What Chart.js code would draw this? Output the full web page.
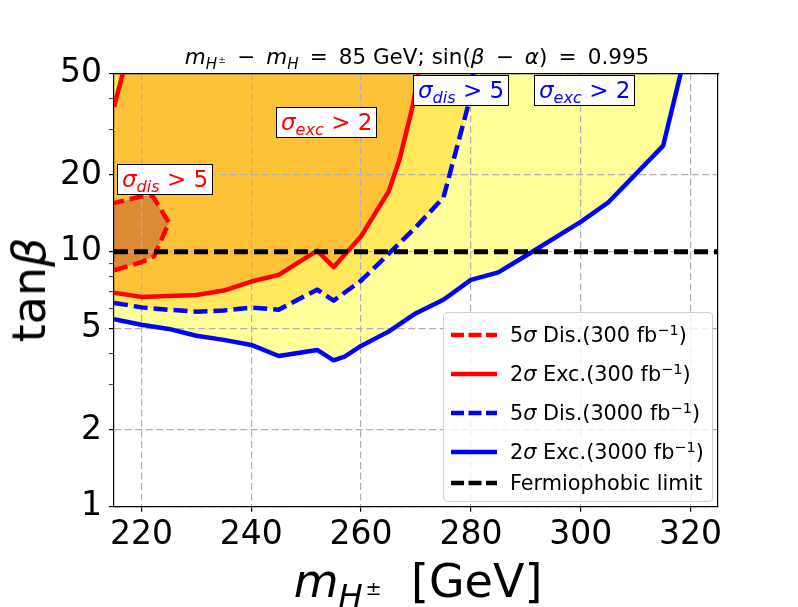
<!DOCTYPE html>
<html>
<head>
<meta charset="utf-8">
<script src="https://cdn.jsdelivr.net/npm/chart.js@4.4.1/dist/chart.umd.min.js"></script>
<style>
body { margin: 0; background: #fff; font-family: "DejaVu Sans", sans-serif; }
#wrap { position: relative; width: 798px; height: 607px; overflow: hidden; }
#myChart { position: absolute; left: 0; top: 0; }
.t { position: absolute; white-space: nowrap; color: #000; line-height: 1; }
.sb { font-size: 70%; vertical-align: -0.3em; }
.sp { font-size: 60%; vertical-align: 0.6em; margin-left: 0.15em; }
.op { margin: 0 0.2em; }
.box { position: absolute; white-space: nowrap; background: #fff; border: 1px solid #000;
       font-size: 23px; line-height: 29px; height: 29px; padding: 0 4px; }
#legend { position: absolute; left: 443px; top: 312px; width: 270px; height: 190px;
          background: rgba(255,255,255,0.8); border: 1px solid #d0d0d0; border-radius: 4px; box-sizing: border-box; }
.row { position: absolute; left: 0; height: 26px; width: 100%; font-size: 20.8px; line-height: 26px; white-space: nowrap; }
.row svg { position: absolute; left: 7px; top: 8px; }
.row span { position: absolute; left: 66px; top: 0; }
.row sup { font-size: 70%; vertical-align: 0.45em; line-height: 0; }
</style>
</head>
<body>
<div id="wrap">
<canvas id="myChart" width="798" height="607"></canvas>

<div class="t" style="left:417px; top:46px; font-size:21.5px; transform:translateX(-50%);"><i>m</i><span class="sb"><i>H</i><span class="sp">±</span></span> <span class="op">−</span> <i>m</i><span class="sb"><i>H</i></span> <span class="op">=</span> 85 GeV; sin(<i>β</i> <span class="op">−</span> <i>α</i>) <span class="op">=</span> 0.995</div>
<div class="t" style="left:418px; top:558px; font-size:46px; transform:translateX(-50%);"><i>m</i><span class="sb"><i>H</i><span class="sp">±</span></span>&nbsp;&nbsp;[GeV]</div>
<div class="t" style="left:29px; top:290px; font-size:46px; transform:translate(-50%,-50%) rotate(-90deg);">tan<i>β</i></div>

<div class="box" style="left:117px; top:164px; color:#ff0000;"><i>σ</i><span class="sb"><i>dis</i></span> &gt; 5</div>
<div class="box" style="left:276px; top:107px; color:#ff0000;"><i>σ</i><span class="sb"><i>exc</i></span> &gt; 2</div>
<div class="box" style="left:413px; top:75px; color:#0000ff;"><i>σ</i><span class="sb"><i>dis</i></span> &gt; 5</div>
<div class="box" style="left:534px; top:75px; color:#0000ff;"><i>σ</i><span class="sb"><i>exc</i></span> &gt; 2</div>

<div id="legend">
  <div class="row" style="top:9px;"><svg width="46" height="10"><line x1="0" y1="5" x2="46" y2="5" stroke="#ff0000" stroke-width="4.5" stroke-dasharray="13,4.5"/></svg><span>5<i>σ</i> Dis.(300 fb<sup>−1</sup>)</span></div>
  <div class="row" style="top:48px;"><svg width="46" height="10"><line x1="0" y1="5" x2="46" y2="5" stroke="#ff0000" stroke-width="4.5"/></svg><span>2<i>σ</i> Exc.(300 fb<sup>−1</sup>)</span></div>
  <div class="row" style="top:87px;"><svg width="46" height="10"><line x1="0" y1="5" x2="46" y2="5" stroke="#0000ff" stroke-width="4.5" stroke-dasharray="13,4.5"/></svg><span>5<i>σ</i> Dis.(3000 fb<sup>−1</sup>)</span></div>
  <div class="row" style="top:126px;"><svg width="46" height="10"><line x1="0" y1="5" x2="46" y2="5" stroke="#0000ff" stroke-width="4.5"/></svg><span>2<i>σ</i> Exc.(3000 fb<sup>−1</sup>)</span></div>
  <div class="row" style="top:157px;"><svg width="46" height="10"><line x1="0" y1="5" x2="46" y2="5" stroke="#000000" stroke-width="4.5" stroke-dasharray="13,4.5"/></svg><span>Fermiophobic limit</span></div>
</div>
</div>

<script>
var xTicks = [220, 240, 260, 280, 300, 320];
var yTicks = [1, 2, 5, 10, 20, 50];
var yMinor = [3, 4, 6, 7, 8, 9, 30, 40];

// 5 sigma discovery, 300 fb-1 (closed contour at low mass)
var dis300X = [215, 220, 222.3, 225, 222, 220, 215];
var dis300Y = [8.45, 9.1, 9.6, 13, 16.6, 16.5, 15.5];

// 2 sigma exclusion, 300 fb-1
var exc300X = [215, 220, 225, 230, 235, 240, 245, 252, 255, 260, 265, 267, 269.5, 270.4];
var exc300Y = [6.9, 6.65, 6.7, 6.77, 7.04, 7.64, 8.11, 10.1, 8.7, 11.5, 17.2, 23, 38, 50];
// piece of the same contour in the top left corner
var exc300CornerX = [215, 216.6];
var exc300CornerY = [37, 50];

// 5 sigma discovery, 3000 fb-1
var dis3000X = [215, 220, 225, 230, 235, 240, 245, 252, 255, 260, 265, 270, 275, 279.5, 280.4];
var dis3000Y = [6.3, 6.05, 5.92, 5.82, 5.88, 6.04, 5.92, 7.1, 6.43, 7.7, 9.8, 12.5, 16.3, 37.5, 50];

// 2 sigma exclusion, 3000 fb-1
var exc3000X = [215, 220, 225, 230, 235, 240, 245, 252, 255, 257, 260, 265, 270, 275, 280, 285, 290, 300, 305, 315, 318.2];
var exc3000Y = [5.44, 5.17, 4.98, 4.68, 4.51, 4.31, 3.9, 4.12, 3.75, 3.88, 4.27, 4.86, 5.74, 6.48, 7.75, 8.3, 9.64, 13.1, 15.6, 26, 50];

var fermioX = [215, 325];
var fermioY = [10, 10];

function pts(xs, ys) {
	return xs.map(function(x, i) { return {x: x, y: ys[i]}; });
}

function lineSet(data, color, dashed, width) {
	return {
		data: data, showLine: true, fill: false,
		borderColor: color, borderWidth: width || 4.5,
		borderDash: dashed ? [14, 6] : [],
		borderJoinStyle: 'round',
		pointRadius: 0, clip: 0
	};
}

function fillSet(data, color, fill) {
	return {
		data: data, showLine: true, fill: fill,
		backgroundColor: color, borderColor: 'rgba(0,0,0,0)', borderWidth: 0,
		pointRadius: 0
	};
}

// polygon of the orange region: lower branch, then back along the top to the corner piece
var orangeX = exc300X.concat(exc300CornerX.slice().reverse());
var orangeY = exc300Y.concat(exc300CornerY.slice().reverse());

var grey = '#b0b0b0';
var ctx = document.getElementById('myChart').getContext('2d');
var chart = new Chart(ctx, {
	type: 'scatter',
	data: {
		datasets: [
			lineSet(pts(fermioX, fermioY), '#000000', true, 5),
			lineSet(pts(dis300X, dis300Y), '#ff0000', true),
			lineSet(pts(exc300X, exc300Y), '#ff0000', false),
			lineSet(pts(exc300CornerX, exc300CornerY), '#ff0000', false),
			lineSet(pts(dis3000X, dis3000Y), '#0000ff', true),
			lineSet(pts(exc3000X, exc3000Y), '#0000ff', false),
			fillSet(pts(dis300X, dis300Y), '#dc8a34', 'shape'),
			fillSet(pts(orangeX, orangeY), '#fdc238', 'shape'),
			fillSet(pts(dis3000X, dis3000Y), '#ffe85c', 'end'),
			fillSet(pts(exc3000X, exc3000Y), '#ffff99', 'end')
		]
	},
	options: {
		responsive: false,
		animation: false,
		devicePixelRatio: 1,
		layout: { padding: { top: 73.5, right: 80, left: 0, bottom: 0 } },
		plugins: {
			legend: { display: false },
			tooltip: { enabled: false },
			filler: { drawTime: 'beforeDraw' }
		},
		scales: {
			x: {
				type: 'linear', position: 'bottom', min: 215, max: 325,
				afterBuildTicks: function(s) { s.ticks = xTicks.map(function(v) { return {value: v}; }); },
				afterFit: function(s) { s.height = 100.3; },
				ticks: { font: { size: 33, family: 'DejaVu Sans' }, color: '#000', padding: 4, maxRotation: 0, autoSkip: false },
				grid: { color: grey, lineWidth: 1.2, tickColor: '#000', tickLength: 5, tickWidth: 1.2 },
				border: { color: '#000', width: 1.2, dash: [7, 3.5] }
			},
			y: {
				type: 'logarithmic', position: 'left', min: 1, max: 50,
				afterBuildTicks: function(s) {
					s.ticks = yTicks.concat(yMinor).sort(function(a, b) { return a - b; })
						.map(function(v) { return {value: v}; });
				},
				afterFit: function(s) { s.width = 114; },
				ticks: {
					font: { size: 33, family: 'DejaVu Sans' }, color: '#000', padding: 7, autoSkip: false,
					callback: function(v) { return yTicks.indexOf(v) >= 0 ? String(v) : ''; }
				},
				grid: {
					color: function(c) { return c.tick && yTicks.indexOf(c.tick.value) >= 0 ? grey : 'rgba(0,0,0,0)'; },
					lineWidth: 1.2, tickColor: '#000', tickLength: 5,
					tickWidth: function(c) { return c.tick && yTicks.indexOf(c.tick.value) >= 0 ? 1.2 : 0.8; }
				},
				border: { color: '#000', width: 1.2, dash: [7, 3.5] }
			},
			xTop: {
				type: 'linear', position: 'top', min: 215, max: 325,
				ticks: { display: false }, grid: { display: false },
				border: { display: true, color: '#000', width: 1.2 },
				afterFit: function(s) { s.height = 0; }
			},
			yRight: {
				type: 'linear', position: 'right', min: 0, max: 1,
				ticks: { display: false }, grid: { display: false },
				border: { display: true, color: '#000', width: 1.2 },
				afterFit: function(s) { s.width = 0; }
			}
		}
	}
});
</script>
</body>
</html>
